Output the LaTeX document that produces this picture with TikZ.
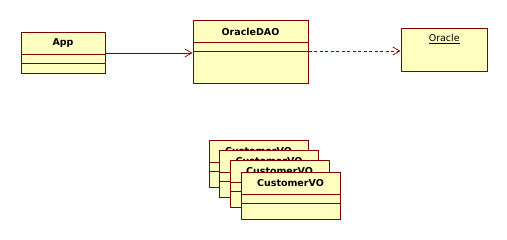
\documentclass[tikz,border=0pt]{standalone}
\usepackage{fontspec}
\setmainfont{DejaVu Sans}
\usetikzlibrary{arrows.meta,calc}
\definecolor{umlfill}{RGB}{255,255,192}
\definecolor{umlline}{RGB}{128,0,0}
\tikzset{
  umlbox/.style={draw=umlline, fill=umlfill, line width=1pt, rectangle, inner sep=0pt, anchor=north west},
  umltitle/.style={font=\fontsize{9.5}{11}\selectfont\bfseries, inner sep=0pt},
  umlsep/.style={draw=umlline, line width=1pt},
  assoc/.style={draw=umlline, line width=0.8pt, -{Straight Barb[length=7pt,width=8pt,line width=0.7pt]}},
  depend/.style={draw=umlline, line width=0.8pt, dash pattern=on 3pt off 2.5pt, -{Straight Barb[length=7pt,width=8pt,line width=0.7pt]}},
}
% one class box: name, x, y (top left), width, height, title, first divider offset
\newcommand{\umlclass}[7]{%
  \node[umlbox, minimum width=#4pt, minimum height=#5pt] (#1) at (#2,#3) {};
  \node[umltitle] (#1-t) at ($(#1.north)+(0,-11pt)$) {#6};
  \draw[umlsep] ([yshift=-#7pt]#1.north west) -- ([yshift=-#7pt]#1.north east);
  \draw[umlsep] ([yshift=-#7pt-9.5pt]#1.north west) -- ([yshift=-#7pt-9.5pt]#1.north east);
}
\begin{document}
\begin{tikzpicture}[x=1pt,y=-1pt]
  \useasboundingbox (0,0) rectangle (507,240);

  % App
  \umlclass{app}{20.5}{32.5}{84}{41}{App}{22}
  % OracleDAO
  \umlclass{dao}{192.5}{20.5}{115}{62.5}{OracleDAO}{22}
  % Oracle (object, underlined)
  \node[umlbox, minimum width=86.5pt, minimum height=43pt] (ora) at (400.5,28.5) {};
  \node[font=\fontsize{9.5}{11}\selectfont, inner sep=0pt] (ora-t) at ($(ora.north)+(0,-10.5pt)$) {\underline{Oracle}};

  % stacked CustomerVO instances
  \umlclass{vo1}{208.5}{140.5}{99}{47}{CustomerVO}{22}
  \umlclass{vo2}{219}{150.5}{99}{47}{CustomerVO}{22}
  \umlclass{vo3}{229.5}{160.5}{99}{47}{CustomerVO}{22}
  \umlclass{vo4}{240.5}{172.5}{99}{47}{CustomerVO}{22}

  % connectors
  \draw[assoc] (app.east |- 0,53) -- (dao.west |- 0,53);
  \draw[depend] (dao.east |- 0,51) -- (ora.west |- 0,51);
\end{tikzpicture}
\end{document}
